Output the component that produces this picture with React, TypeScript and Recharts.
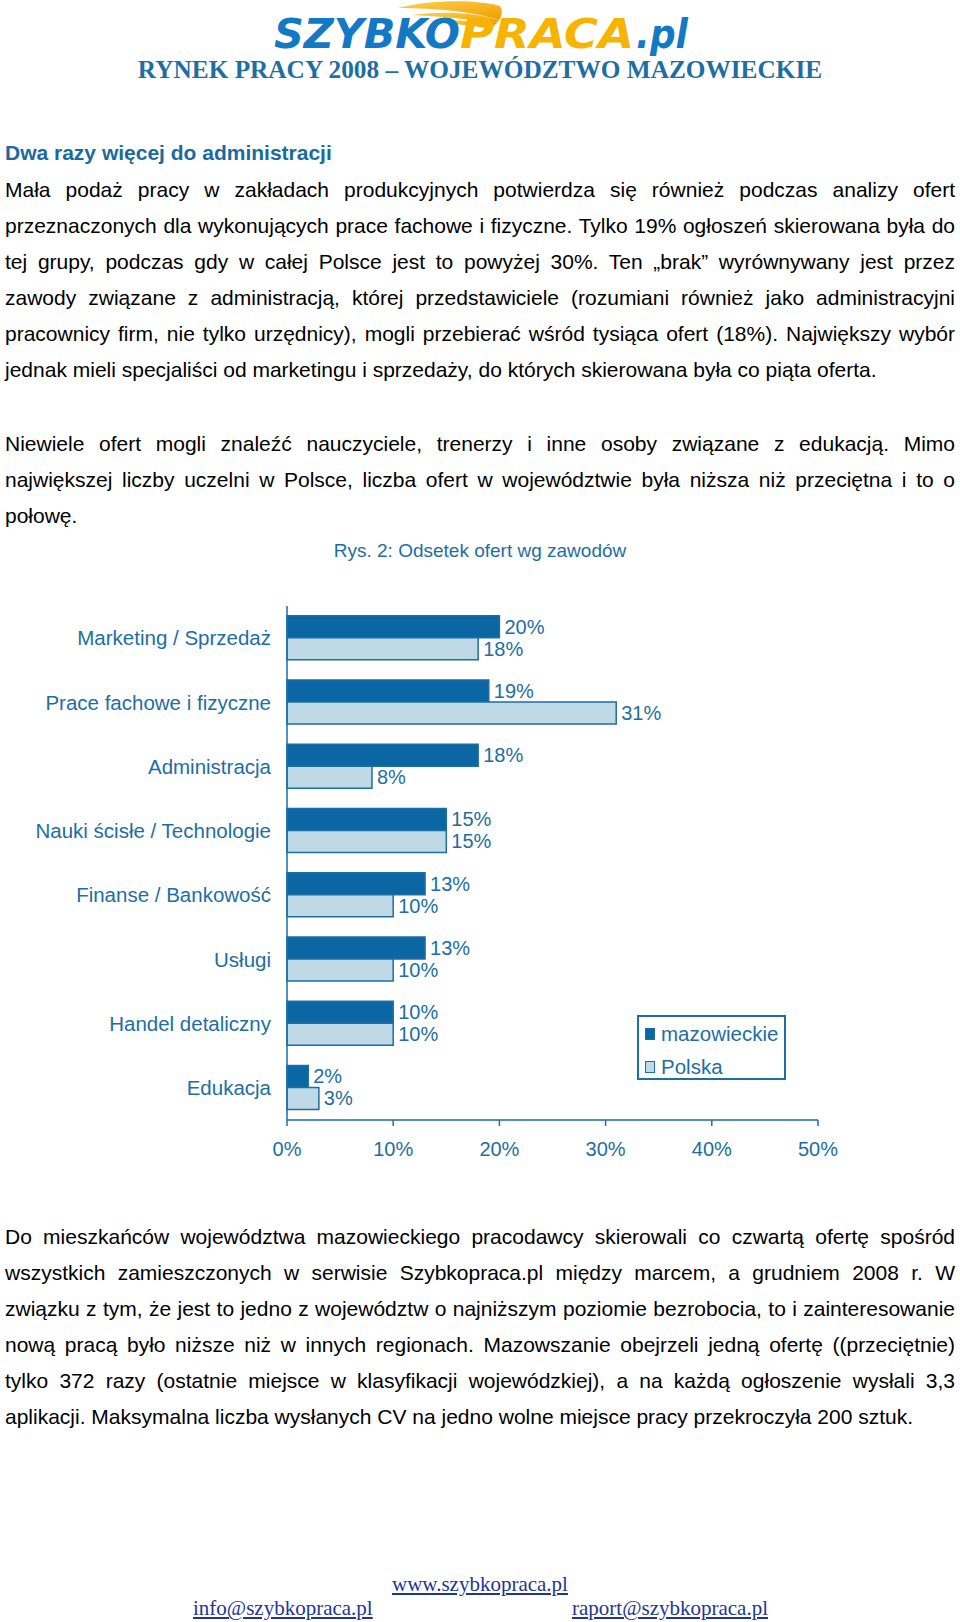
import React from "react";
import { BarChart, Bar, XAxis, YAxis, LabelList, Legend } from "recharts";

// chart data
const categories = [
  "Marketing / Sprzedaż",
  "Prace fachowe i fizyczne",
  "Administracja",
  "Nauki ścisłe / Technologie",
  "Finanse / Bankowość",
  "Usługi",
  "Handel detaliczny",
  "Edukacja",
];
const mazowieckie = [20, 19, 18, 15, 13, 13, 10, 2];
const polska = [18, 31, 8, 15, 10, 10, 10, 3];
const xTicks = [0, 10, 20, 30, 40, 50];
// category boundaries, used for the tick marks on the left axis
const boundaryTicks = [...categories.map((_, i) => i), categories.length];
const seriesOrder = ["mazowieckie", "polska"];

const data = categories.map((name, i) => ({
  name,
  mazowieckie: mazowieckie[i],
  polska: polska[i],
}));

// page text
const heading = "Dwa razy więcej do administracji";
const para1 = [
  "Mała podaż pracy w zakładach produkcyjnych potwierdza się również podczas analizy ofert",
  "przeznaczonych dla wykonujących prace fachowe i fizyczne. Tylko 19% ogłoszeń skierowana była do",
  "tej grupy, podczas gdy w całej Polsce jest to powyżej 30%. Ten „brak” wyrównywany jest przez",
  "zawody związane z administracją, której przedstawiciele (rozumiani również jako administracyjni",
  "pracownicy firm, nie tylko urzędnicy), mogli przebierać wśród tysiąca ofert (18%). Największy wybór",
  "jednak mieli specjaliści od marketingu i sprzedaży, do których skierowana była co piąta oferta.",
];
const para2 = [
  "Niewiele ofert mogli znaleźć nauczyciele, trenerzy i inne osoby związane z edukacją. Mimo",
  "największej liczby uczelni w Polsce, liczba ofert w województwie była niższa niż przeciętna i to o",
  "połowę.",
];
const para3 = [
  "Do mieszkańców województwa mazowieckiego pracodawcy skierowali co czwartą ofertę spośród",
  "wszystkich zamieszczonych w serwisie Szybkopraca.pl między marcem, a grudniem 2008 r. W",
  "związku z tym, że jest to jedno z województw o najniższym poziomie bezrobocia, to i zainteresowanie",
  "nową pracą było niższe niż w innych regionach. Mazowszanie obejrzeli jedną ofertę ((przeciętnie)",
  "tylko 372 razy (ostatnie miejsce w klasyfikacji wojewódzkiej), a na każdą ogłoszenie wysłali 3,3",
  "aplikacji. Maksymalna liczba wysłanych CV na jedno wolne miejsce pracy przekroczyła 200 sztuk.",
];

const BLUE = "#1d6ea3";
const DARK = "#0a67a3";
const LIGHT = "#bfd9e7";
const LINK = "#1f3496";
const SANS = "'Liberation Sans', Arial, sans-serif";
const SERIF = "'Liberation Serif', 'Times New Roman', serif";

const seriesFill: Record<string, string> = { mazowieckie: DARK, polska: LIGHT };

const pct = (v: any) => `${v}%`;

function Paragraph({ lines, top }: { lines: string[]; top: number }) {
  return (
    <div
      style={{
        position: "absolute",
        left: 5,
        top,
        width: 950,
        fontFamily: SANS,
        fontSize: 21,
        lineHeight: "36px",
        color: "#000",
      }}
    >
      {lines.map((l, i) => {
        const last = i === lines.length - 1;
        return (
          <div
            key={i}
            style={{
              textAlign: last ? "left" : "justify",
              textAlignLast: last ? "left" : "justify",
              whiteSpace: "nowrap",
            }}
          >
            {l}
          </div>
        );
      })}
    </div>
  );
}

function renderLegend(props: any) {
  const items = [...(props.payload || [])].sort(
    (a: any, b: any) => seriesOrder.indexOf(a.dataKey) - seriesOrder.indexOf(b.dataKey)
  );
  return (
    <div
      style={{
        width: 149,
        height: 65,
        boxSizing: "border-box",
        border: `2px solid ${BLUE}`,
        background: "#fff",
        fontFamily: SANS,
        fontSize: 20.5,
        color: BLUE,
      }}
    >
      {items.map((entry: any) => (
        <div
          key={entry.dataKey}
          style={{ height: 33, display: "flex", alignItems: "center", paddingLeft: 6 }}
        >
          <span
            style={{
              display: "inline-block",
              width: 8,
              height: 10,
              marginRight: 6,
              background: seriesFill[entry.dataKey] || entry.color,
              border: `1px solid ${BLUE}`,
            }}
          />
          {entry.value}
        </div>
      ))}
    </div>
  );
}

function Logo() {
  return (
    <svg width={960} height={56} style={{ position: "absolute", left: 0, top: 0 }}>
      <defs>
        <linearGradient id="wing" x1="0" y1="0" x2="1" y2="1">
          <stop offset="0%" stopColor="#fbd24e" />
          <stop offset="100%" stopColor="#f39c00" />
        </linearGradient>
      </defs>
      <path d="M398 8 C425 1 470 -2 500 6 C503 11 502 16 499 20 C476 12 436 8 398 8 Z" fill="url(#wing)" />
      <path d="M412 15 C440 11 474 12 499 20 L495 25 C474 19 446 17 412 15 Z" fill="url(#wing)" />
      <path d="M428 21 C452 19 474 21 495 25 L491 29 C472 25 452 24 428 21 Z" fill="url(#wing)" />
      <g fontFamily="'DejaVu Sans', sans-serif" fontWeight={900} fontStyle="italic" fontSize={40}>
        <text x={274} y={48} textLength={186} lengthAdjust="spacingAndGlyphs" fill="#1479c4">
          SZYBKO
        </text>
        <text x={460} y={48} textLength={174} lengthAdjust="spacingAndGlyphs" fill="#f6b400">
          PRACA
        </text>
        <text x={636} y={48} textLength={52} lengthAdjust="spacingAndGlyphs" fill="#1479c4">
          .pl
        </text>
      </g>
    </svg>
  );
}

export default function App() {
  return (
    <div
      style={{
        position: "absolute",
        left: 0,
        top: 0,
        width: 960,
        height: 1622,
        background: "#fff",
        overflow: "hidden",
      }}
    >
      <Logo />
      <div
        style={{
          position: "absolute",
          left: 0,
          top: 54,
          width: 960,
          textAlign: "center",
          fontFamily: SERIF,
          fontWeight: "bold",
          fontSize: 25.3,
          lineHeight: "30px",
          color: BLUE,
        }}
      >
        RYNEK PRACY 2008 – WOJEWÓDZTWO MAZOWIECKIE
      </div>

      <div
        style={{
          position: "absolute",
          left: 5,
          top: 138,
          fontFamily: SANS,
          fontWeight: "bold",
          fontSize: 21,
          lineHeight: "30px",
          color: "#1a6aa0",
        }}
      >
        {heading}
      </div>

      <Paragraph lines={para1} top={172} />
      <Paragraph lines={para2} top={426} />

      <div
        style={{
          position: "absolute",
          left: 0,
          top: 538,
          width: 960,
          textAlign: "center",
          fontFamily: SANS,
          fontSize: 19,
          lineHeight: "26px",
          color: BLUE,
        }}
      >
        Rys. 2: Odsetek ofert wg zawodów
      </div>

      <div style={{ position: "absolute", left: 0, top: 580 }}>
        <BarChart
          width={960}
          height={600}
          data={data}
          layout="vertical"
          margin={{ top: 26, right: 142, bottom: 20, left: 7 }}
          barCategoryGap="15%"
          barGap={0}
        >
          <XAxis
            type="number"
            domain={[0, 50]}
            ticks={xTicks}
            tickFormatter={pct}
            height={40}
            axisLine={{ stroke: BLUE, strokeWidth: 1.5 }}
            tickLine={{ stroke: BLUE, strokeWidth: 1.5 }}
            tickSize={6}
            tickMargin={16}
            tick={{ fill: BLUE, fontSize: 20, fontFamily: SANS }}
          />
          <YAxis
            yAxisId="b_cat"
            type="category"
            dataKey="name"
            width={279}
            interval={0}
            axisLine={false}
            tickLine={false}
            tickSize={6}
            tickMargin={9}
            tick={{ fill: BLUE, fontSize: 20.5, fontFamily: SANS }}
          />
          <YAxis
            yAxisId="a_frame"
            type="number"
            domain={[0, categories.length]}
            ticks={boundaryTicks}
            allowDataOverflow
            width={1}
            tick={false}
            tickSize={5}
            axisLine={{ stroke: BLUE, strokeWidth: 1.5 }}
            tickLine={{ stroke: BLUE, strokeWidth: 1.5 }}
          />
          <Legend
            layout="vertical"
            align="center"
            verticalAlign="middle"
            content={renderLegend}
            wrapperStyle={{ left: 637, top: 435, width: 149, height: 65 }}
          />
          <Bar
            yAxisId="b_cat"
            dataKey="mazowieckie"
            name="mazowieckie"
            fill={DARK}
            stroke={BLUE}
            strokeWidth={1.5}
            isAnimationActive={false}
          >
            <LabelList
              dataKey="mazowieckie"
              position="right"
              offset={5}
              formatter={pct}
              fill={BLUE}
              fontSize={20}
              fontFamily={SANS}
            />
          </Bar>
          <Bar
            yAxisId="b_cat"
            dataKey="polska"
            name="Polska"
            fill={LIGHT}
            stroke={BLUE}
            strokeWidth={1.5}
            isAnimationActive={false}
          >
            <LabelList
              dataKey="polska"
              position="right"
              offset={5}
              formatter={pct}
              fill={BLUE}
              fontSize={20}
              fontFamily={SANS}
            />
          </Bar>
        </BarChart>
      </div>

      <Paragraph lines={para3} top={1219} />

      <div
        style={{
          position: "absolute",
          left: 0,
          top: 1573,
          width: 960,
          textAlign: "center",
          fontFamily: SERIF,
          fontSize: 21,
          lineHeight: "22px",
          color: LINK,
          textDecoration: "underline",
        }}
      >
        www.szybkopraca.pl
      </div>
      <div
        style={{
          position: "absolute",
          left: 193,
          top: 1597,
          fontFamily: SERIF,
          fontSize: 21,
          lineHeight: "22px",
          color: LINK,
          textDecoration: "underline",
        }}
      >
        info@szybkopraca.pl
      </div>
      <div
        style={{
          position: "absolute",
          left: 572,
          top: 1597,
          fontFamily: SERIF,
          fontSize: 21,
          lineHeight: "22px",
          color: LINK,
          textDecoration: "underline",
        }}
      >
        raport@szybkopraca.pl
      </div>
    </div>
  );
}
